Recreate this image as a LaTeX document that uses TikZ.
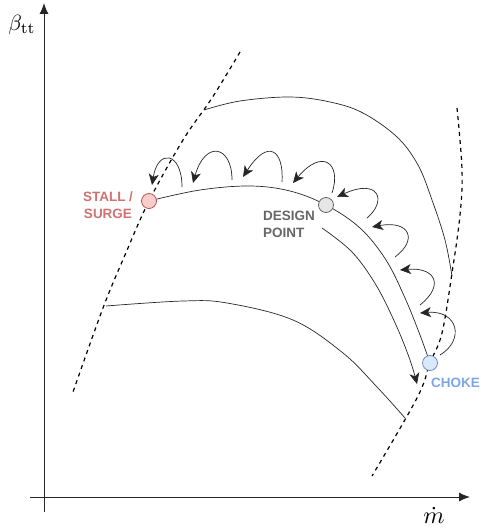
\documentclass[tikz,border=0pt]{standalone}
\usepackage{fontspec}
\setsansfont{Liberation Sans}
\usetikzlibrary{arrows.meta}
\definecolor{stallfill}{HTML}{F8CECC}
\definecolor{stallline}{HTML}{B85450}
\definecolor{stalltext}{HTML}{CF7272}
\definecolor{designfill}{HTML}{E6E6E6}
\definecolor{designline}{HTML}{666666}
\definecolor{designtext}{HTML}{666666}
\definecolor{chokefill}{HTML}{DAE8FC}
\definecolor{chokeline}{HTML}{6C8EBF}
\definecolor{choketext}{HTML}{7EA6E0}
\begin{document}
\begin{tikzpicture}[x=1pt,y=-1pt,
  axis/.style={draw=black!85, line width=1pt, -{Latex[length=11pt,width=9pt]}},
  boundary/.style={line width=1.2pt, dash pattern=on 4pt off 4pt},
  speedline/.style={line width=0.7pt, draw=black!85},
  looparrow/.style={line width=0.7pt, draw=black!85, -{Stealth[length=11pt,width=10pt,inset=3pt]}},
  opoint/.style={circle, minimum size=15pt, inner sep=0pt, line width=0.8pt},
  lbl/.style={font=\sffamily\bfseries\fontsize{13.5}{17}\selectfont, inner sep=0pt},
  mathlbl/.style={inner sep=0pt, scale=2.2, transform shape}]
\useasboundingbox (0,0) rectangle (480,529);

% axes
\coordinate (ybot) at (44,512);
\coordinate (ytop) at (44,3);
\coordinate (xleft) at (30,497);
\coordinate (xright) at (470,497);
\draw[axis] (ybot) -- (ytop);
\draw[axis] (xleft) -- (xright);
\node[mathlbl] (ylab) at (22,25) {$\beta_{\mathrm{tt}}$};
\node[mathlbl, scale=1.1] (xlab) at (434,515) {$\dot{m}$};

% operating points (positions)
\coordinate (stallc) at (149,201);
\coordinate (designc) at (326,205);
\coordinate (chokec) at (430,363);

% surge and choke boundaries
\draw[boundary] plot[smooth, tension=0.6] coordinates {(240,52) (212,98) (183,140) (149,201) (125,255) (103,308) (73,392)};
\draw[boundary] plot[smooth, tension=0.6] coordinates {(457,108) (462,170) (460,215) (452,273) (442,333) (430,363) (417,398) (372,476)};

% speed lines
\draw[speedline] plot[smooth, tension=0.6] coordinates {(204,110) (240,101) (290,97) (330,102) (363,113) (397,137) (418,165) (432,200) (445,240) (452,276)};
\draw[speedline] plot[smooth, tension=0.6] coordinates {(stallc) (200,190) (250,186) (290,191) (designc) (360,228) (386,260) (405,298) (420,335) (chokec)};
\draw[speedline] plot[smooth, tension=0.6] coordinates {(106,306) (183,301) (227,303) (293,320) (343,353) (377,387) (405,418)};
\coordinate (as) at (322,228);
\coordinate (ae) at (417,384);
\draw[speedline, -{Stealth[length=11pt,width=10pt,inset=3pt]}] plot[smooth, tension=0.6] coordinates {(as) (352,252) (376,285) (396,325) (410,360) (ae)};

% loop arrows
\coordinate (s1) at (182,187); \coordinate (t1) at (152,185);
\coordinate (s2) at (232,180); \coordinate (t2) at (193,183);
\coordinate (s3) at (282,182); \coordinate (t3) at (243,177);
\coordinate (s4) at (332,193); \coordinate (t4) at (293,183);
\coordinate (s5) at (367,218); \coordinate (t5) at (337,197);
\coordinate (s6) at (395,257); \coordinate (t6) at (372,227);
\coordinate (s7) at (420,305); \coordinate (t7) at (400,270);
\coordinate (s8) at (440,355); \coordinate (t8) at (420,313);
\draw[looparrow] (s1) .. controls (182,152) and (158,148) .. (t1);
\draw[looparrow] (s2) .. controls (232,145) and (205,140) .. (t2);
\draw[looparrow] (s3) .. controls (284,150) and (268,138) .. (t3);
\draw[looparrow] (s4) .. controls (342,163) and (322,148) .. (t4);
\draw[looparrow] (s5) .. controls (388,200) and (378,178) .. (t5);
\draw[looparrow] (s6) .. controls (418,240) and (410,220) .. (t6);
\draw[looparrow] (s7) .. controls (445,285) and (435,267) .. (t7);
\draw[looparrow] (s8) .. controls (465,340) and (458,310) .. (t8);

% operating point markers
\node[opoint, fill=stallfill, draw=stallline] (stall) at (stallc) {};
\node[opoint, fill=designfill, draw=designline] (design) at (designc) {};
\node[opoint, fill=chokefill, draw=chokeline] (choke) at (chokec) {};

% labels
\node[lbl, text=stalltext, align=center] (lstall) at (108,205) {STALL /\\SURGE};
\node[lbl, text=designtext, align=left, anchor=west] (ldesign) at (263,224) {DESIGN\\POINT};
\node[lbl, text=choketext, anchor=west] (lchoke) at (431,383) {CHOKE};
\end{tikzpicture}
\end{document}
